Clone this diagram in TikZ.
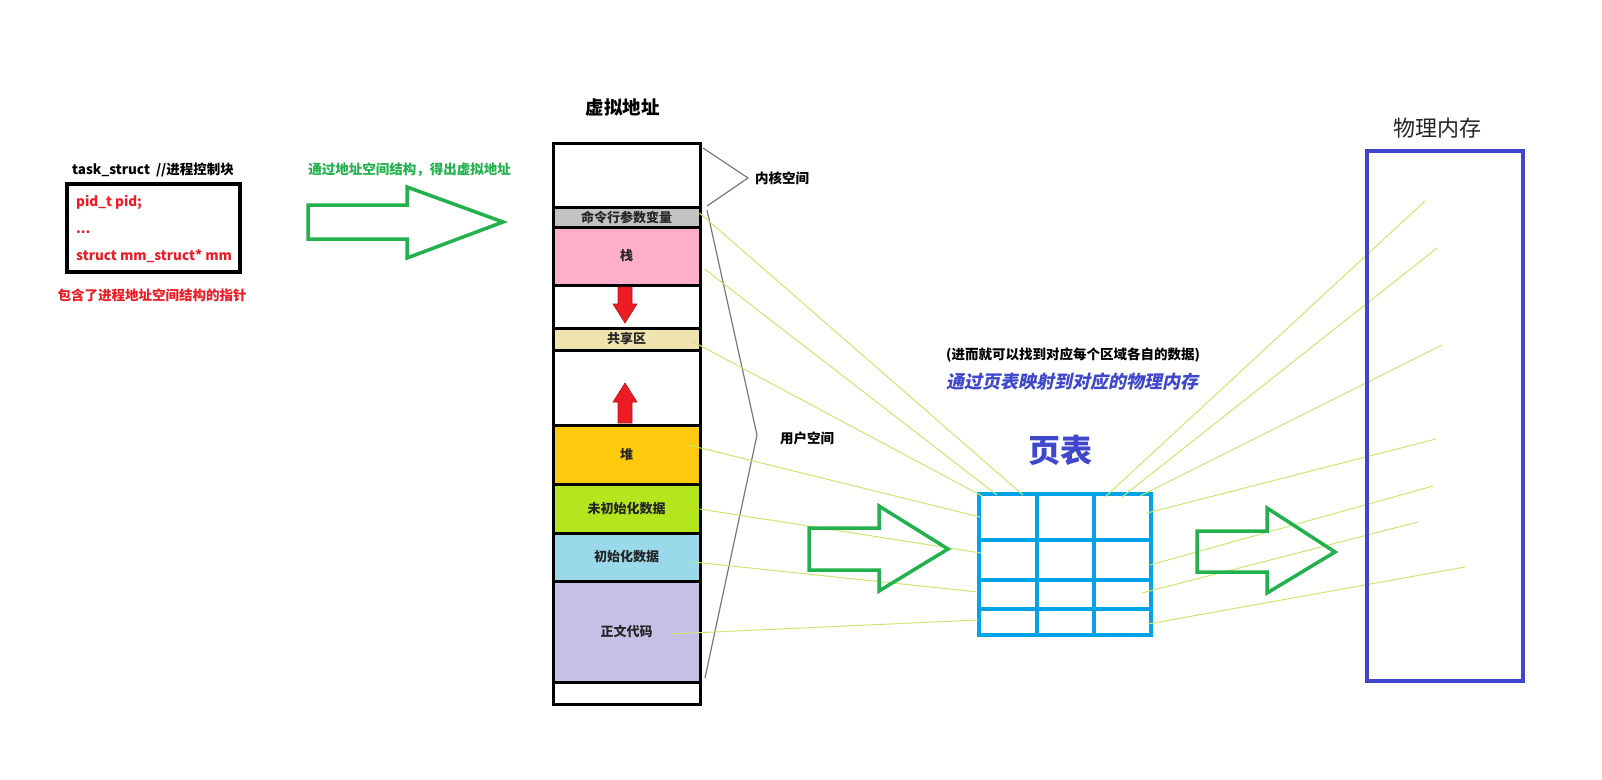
\documentclass[tikz,border=0pt]{standalone}
\usepackage{fontspec}
\setmainfont{Noto Sans CJK SC}
\newfontfamily\slfont{Noto Sans CJK SC}[FakeSlant=0.2]
\usetikzlibrary{calc}
\definecolor{pred}{RGB}{237,28,36}
\definecolor{pgreen}{RGB}{34,177,76}
\definecolor{pblue}{RGB}{63,72,204}
\definecolor{pcyan}{RGB}{0,162,232}
\definecolor{pgray}{RGB}{195,195,195}
\definecolor{ppink}{RGB}{255,174,201}
\definecolor{pbeige}{RGB}{239,228,176}
\definecolor{pyellow}{RGB}{255,201,14}
\definecolor{plime}{RGB}{181,230,29}
\definecolor{plblue}{RGB}{153,217,234}
\definecolor{plav}{RGB}{200,191,231}
\definecolor{pline}{RGB}{200,232,110}
\definecolor{pbrk}{RGB}{120,120,120}
\begin{document}
\begin{tikzpicture}[x=1pt,y=-1pt,
  cell/.style={draw=black, line width=3pt, minimum width=147pt, inner sep=0pt,
    font=\fontsize{13}{15}\selectfont\bfseries, text=black!85},
  conn/.style={draw=pline, line width=1pt},
  garrow/.style={draw=pgreen, line width=3.5pt},
  brk/.style={draw=pbrk, line width=1.2pt},
  lbl/.style={inner sep=0pt},
  redtxt/.style={inner sep=0pt, anchor=west, text=pred, font=\fontsize{13.5}{15}\selectfont\bfseries},
  redarrow/.style={fill=pred, draw=pred!75!black, line width=0.6pt},
  ptline/.style={draw=pcyan, line width=3.5pt}
]
\fill[white] (0,0) rectangle (1602,779);
\useasboundingbox (0,0) rectangle (1602,779);

% ---- task_struct ----
\node[lbl, anchor=west, font=\fontsize{13.5}{15}\selectfont\bfseries] (tstitle) at (72,170) {task\_struct\hspace{6pt}//进程控制块};
\node[draw=black, line width=4pt, minimum width=173pt, minimum height=88pt, inner sep=0pt] (tsbox) at (153.5,228) {};
\node[redtxt] (f1) at (76,202) {pid\_t pid;};
\node[redtxt] (f2) at (76,232) {...};
\node[redtxt] (f3) at (76,256) {struct mm\_struct* mm};
\node[lbl, text=pred, font=\fontsize{13.5}{15}\selectfont\bfseries] (tscap) at (152,295) {包含了进程地址空间结构的指针};

% ---- first arrow ----
\node[lbl, text=pgreen, font=\fontsize{13.5}{15}\selectfont\bfseries] (a1lbl) at (409.5,170) {通过地址空间结构，得出虚拟地址};
\draw[garrow] (308,205) -- (407,205) -- (407,187) -- (503,222) -- (407,258) -- (407,239) -- (308,239) -- cycle;

% ---- virtual address column ----
\node[lbl, font=\fontsize{18.5}{20}\selectfont\bfseries] (vtitle) at (622.5,107) {虚拟地址};
\node[cell, fill=white,   minimum height=64pt]  (kern)   at (626.5,175)   {};
\node[cell, fill=pgray,   minimum height=20pt]  (cmd)    at (626.5,217)   {命令行参数变量};
\node[cell, fill=ppink,   minimum height=58pt]  (stack)  at (626.5,256)   {栈};
\node[cell, fill=white,   minimum height=43pt]  (gap1)   at (626.5,306.5) {};
\node[cell, fill=pbeige,  minimum height=22pt]  (shared) at (626.5,339)   {共享区};
\node[cell, fill=white,   minimum height=75pt]  (gap2)   at (626.5,387.5) {};
\node[cell, fill=pyellow, minimum height=59pt]  (heap)   at (626.5,454.5) {堆};
\node[cell, fill=plime,   minimum height=49pt]  (bss)    at (626.5,508.5) {未初始化数据};
\node[cell, fill=plblue,  minimum height=48pt]  (data)   at (626.5,557)   {初始化数据};
\node[cell, fill=plav,    minimum height=101pt] (text)   at (626.5,631.5) {正文代码};
\node[cell, fill=white,   minimum height=22pt]  (bot)    at (626.5,693)   {};

% red growth arrows
\filldraw[redarrow] (618,287) -- (632,287) -- (632,304) -- (637,304) -- (625,323) -- (613,304) -- (618,304) -- cycle;
\filldraw[redarrow] (618,423) -- (632,423) -- (632,402) -- (637,402) -- (625,383) -- (613,402) -- (618,402) -- cycle;

% brackets
\draw[brk] (703,148) -- (748,178) -- (707,206);
\draw[brk] (707,210) -- (757,435) -- (705,678);
\node[lbl, anchor=west, font=\fontsize{13.5}{15}\selectfont\bfseries] (kernlbl) at (755,178) {内核空间};
\node[lbl, anchor=west, font=\fontsize{13.5}{15}\selectfont\bfseries] (userlbl) at (780,438) {用户空间};

% ---- page table ----
\node[draw=pcyan, line width=4pt, minimum width=172pt, minimum height=141pt, inner sep=0pt] (ptab) at (1065,564.5) {};
\draw[ptline] (1037,494) -- (1037,635);
\draw[ptline] (1094,494) -- (1094,635);
\draw[ptline] (979,540) -- (1151,540);
\draw[ptline] (979,580) -- (1151,580);
\draw[ptline] (979,609) -- (1151,609);
\node[lbl, text=pblue, font=\fontsize{32}{34}\selectfont\bfseries] (ptlbl) at (1060.5,450) {页表};
\node[lbl, font=\fontsize{13.5}{15}\selectfont\bfseries] (note1) at (1073,355) {(进而就可以找到对应每个区域各自的数据)};
\node[lbl, text=pblue, font=\slfont\fontsize{18}{20}\selectfont\bfseries] (note2) at (1072,382) {通过页表映射到对应的物理内存};

% ---- physical memory ----
\node[lbl, text=black!85, font=\fontsize{22}{24}\selectfont] (phlbl) at (1437.5,128) {物理内存};

% connection end points
\coordinate (pA) at (1023,495);
\coordinate (pB) at (997,495);
\coordinate (pC) at (982,496);
\coordinate (pD) at (980,517);
\coordinate (pE) at (981,553);
\coordinate (pF) at (978,592);
\coordinate (pG) at (978,620);
\coordinate (qA) at (1105,497);
\coordinate (qB) at (1122,497);
\coordinate (qC) at (1140,496);
\coordinate (qD) at (1147,513);
\coordinate (qE) at (1150,565);
\coordinate (qF) at (1142,593);
\coordinate (qG) at (1148,624);
\coordinate (mA) at (1425,201);
\coordinate (mB) at (1437,248);
\coordinate (mC) at (1442,345);
\coordinate (mD) at (1436,439);
\coordinate (mE) at (1433,486);
\coordinate (mF) at (1418,522);
\coordinate (mG) at (1465,567);

\draw[conn] ([shift={(-2,-4)}]cmd.east) -- (pA);
\draw[conn] ([shift={(3,13)}]stack.east) -- (pB);
\draw[conn] ([shift={(-8,3)}]shared.east) -- (pC);
\draw[conn] ([shift={(-13,-9.5)}]heap.east) -- (pD);
\draw[conn] ([shift={(-2,0.5)}]bss.east) -- (pE);
\draw[conn] ([shift={(-8,5)}]data.east) -- (pF);
\draw[conn] ([shift={(-32,2.5)}]text.east) -- (pG);

\draw[conn] (qA) -- (mA);
\draw[conn] (qB) -- (mB);
\draw[conn] (qC) -- (mC);
\draw[conn] (qD) -- (mD);
\draw[conn] (qE) -- (mE);
\draw[conn] (qF) -- (mF);
\draw[conn] (qG) -- (mG);

\node[draw=pblue, line width=4pt, minimum width=156pt, minimum height=530pt, inner sep=0pt] (phys) at (1445,416) {};

% ---- arrows 2 and 3 ----
\draw[garrow] (809,528) -- (879,528) -- (879,506) -- (948,549) -- (879,591) -- (879,570) -- (809,570) -- cycle;
\draw[garrow] (1197,531) -- (1267,531) -- (1267,508) -- (1335,552) -- (1267,593) -- (1267,572) -- (1197,572) -- cycle;
\end{tikzpicture}
\end{document}
